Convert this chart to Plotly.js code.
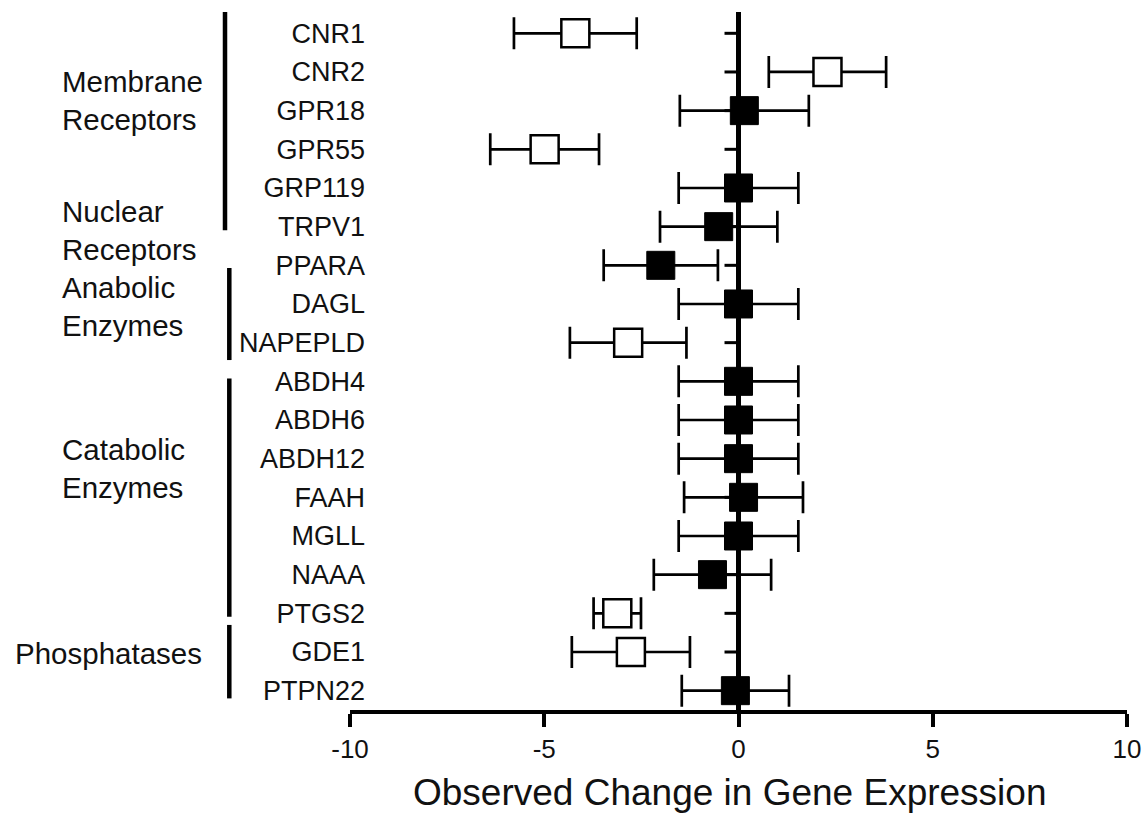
<!DOCTYPE html>
<html>
<head>
<meta charset="utf-8">
<script src="https://cdn.plot.ly/plotly-3.0.1.min.js"></script>
<style>html,body{margin:0;padding:0;background:#fff;}#chart{width:1146px;height:813px;}</style>
</head>
<body>
<div id="chart"></div>
<script>
// Genes, top to bottom
const genes = ["CNR1","CNR2","GPR18","GPR55","GRP119","TRPV1","PPARA","DAGL","NAPEPLD",
  "ABDH4","ABDH6","ABDH12","FAAH","MGLL","NAAA","PTGS2","GDE1","PTPN22"];
// Observed change in gene expression (centre of each marker)
const change = [-4.2, 2.29, 0.15, -4.99, 0.0, -0.51, -2.0, 0.0, -2.84,
  0.0, 0.0, 0.0, 0.13, 0.0, -0.67, -3.12, -2.77, -0.08];
// Half-width of each error bar
const errHalf = [1.58, 1.51, 1.66, 1.40, 1.54, 1.51, 1.47, 1.54, 1.50,
  1.54, 1.54, 1.54, 1.53, 1.54, 1.51, 0.61, 1.52, 1.38];
// true = significant change (open square)
const significant = [true, true, false, true, false, false, false, false, true,
  false, false, false, false, false, false, true, true, false];
// Group labels
const groupLabels = ["Membrane<br>Receptors", "Nuclear<br>Receptors", "Anabolic<br>Enzymes", "Catabolic<br>Enzymes", "Phosphatases"];
const xTicks = [-10, -5, 0, 5, 10];
const xTitle = "Observed Change in Gene Expression";

const FONT = "Liberation Sans, Arial, Helvetica, sans-serif";

function pick(arr, flag) { return arr.filter((_, i) => significant[i] === flag); }

const filled = {
  type: "scatter", mode: "markers",
  x: pick(change, false), y: pick(genes, false),
  error_x: { type: "data", array: pick(errHalf, false), symmetric: true, color: "#000", thickness: 2.7, width: 16 },
  marker: { symbol: "square", size: 28, color: "#000", line: { color: "#000", width: 1 } },
  hoverinfo: "x+y", showlegend: false
};
const open = {
  type: "scatter", mode: "markers",
  x: pick(change, true), y: pick(genes, true),
  error_x: { type: "data", array: pick(errHalf, true), symmetric: true, color: "#000", thickness: 2.7, width: 16 },
  marker: { symbol: "square", size: 28, color: "#fff", line: { color: "#000", width: 2.5 } },
  hoverinfo: "x+y", showlegend: false
};

// layout geometry helpers
const L = 350, R = 19, T = 12, B = 103, W = 1146, H = 813;
const plotW = W - L - R, plotH = H - T - B;
const px2paperX = px => (px - L) / plotW;
const px2paperY = py => 1 - (py - T) / plotH;

const shapes = [];
// small ticks on the zero line
genes.forEach((g, i) => {
  shapes.push({ type: "line", xref: "x", yref: "y", x0: -0.36, x1: 0, y0: i, y1: i,
    line: { color: "#000", width: 3 }, layer: "below" });
});
// group brackets (row-index spans)
const brackets = [
  { px: 225, y0: -0.6, y1: 5.09 },
  { px: 229.3, y0: 6.07, y1: 8.45 },
  { px: 229.3, y0: 8.93, y1: 15.09 },
  { px: 229.3, y0: 15.3, y1: 17.2 }
];
brackets.forEach(b => {
  shapes.push({ type: "line", xref: "paper", yref: "y", x0: px2paperX(b.px), x1: px2paperX(b.px),
    y0: b.y0, y1: b.y1, line: { color: "#000", width: 4.5 } });
});

const labelPos = [
  { px: 60, y: 1.75 }, { px: 60, y: 5.09 }, { px: 60, y: 7.07 }, { px: 60, y: 11.26 }, { px: 12.7, y: 16.03 }
];
const annotations = groupLabels.map((t, i) => ({
  text: t, xref: "paper", yref: "y", x: px2paperX(labelPos[i].px), y: labelPos[i].y,
  xanchor: "left", yanchor: "middle", align: "left", showarrow: false,
  font: { family: FONT, size: 29.5, color: "#111" }
}));
// x-axis title (placed as in the reference, slightly left of centre)
annotations.push({
  text: xTitle, xref: "paper", yref: "paper", x: px2paperX(729.5), y: px2paperY(792),
  xanchor: "center", yanchor: "middle", showarrow: false,
  font: { family: FONT, size: 37, color: "#111" }
});

const layout = {
  width: W, height: H,
  margin: { l: L, r: R, t: T, b: B, pad: 0 },
  paper_bgcolor: "#fff", plot_bgcolor: "#fff",
  font: { family: FONT, color: "#111" },
  xaxis: {
    range: [-10, 10], tickvals: xTicks, ticktext: xTicks.map(String),
    showgrid: false, zeroline: true, zerolinecolor: "#000", zerolinewidth: 4.5,
    showline: true, linecolor: "#000", linewidth: 4,
    ticks: "outside", ticklen: 13, tickwidth: 4, tickcolor: "#000",
    tickfont: { family: FONT, size: 26, color: "#111" },
    automargin: false, fixedrange: true
  },
  yaxis: {
    type: "category", categoryorder: "array", categoryarray: genes,
    range: [17.5, -0.551],
    showgrid: false, zeroline: false, showline: false, ticks: "",
    tickfont: { family: FONT, size: 27, color: "#111" },
    ticklabelstandoff: -16,
    automargin: false, fixedrange: true
  },
  shapes: shapes,
  annotations: annotations
};

Plotly.newPlot("chart", [filled, open], layout, { displayModeBar: false, staticPlot: true });
</script>
</body>
</html>
